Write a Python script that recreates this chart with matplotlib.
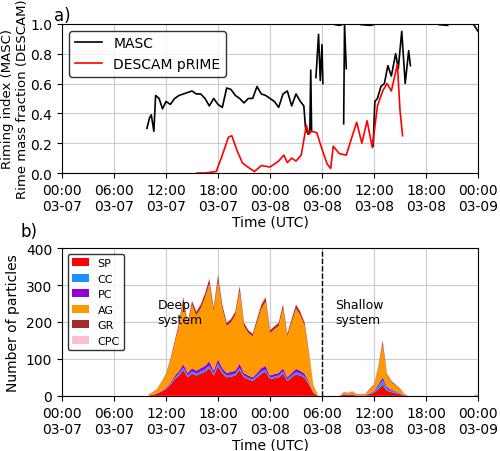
import numpy as np
import matplotlib.pyplot as plt

# hours since 00:00 03-07
masc_t = [9.8, 10.1, 10.3, 10.6, 10.8, 11.2, 11.6, 12.0, 12.5, 13.0, 13.5, 14.0, 14.5, 15.0, 15.5,
          16.0, 16.5, 17.0, 17.5, 18.0, 18.5, 19.0, 19.5, 20.0, 20.5, 21.0, 21.5, 22.0, 22.5, 23.0,
          23.5, 24.0, 24.5, 25.0, 25.5, 26.0, 26.5, 27.0, 27.5, 27.9, 28.1, 28.4, 28.6, 28.7, 28.8,
          29.0, 29.3, 29.6, 29.8, 30.0, 30.1]
masc_v = [0.30, 0.37, 0.39, 0.28, 0.52, 0.50, 0.43, 0.48, 0.46, 0.50, 0.52, 0.53, 0.54, 0.55, 0.53,
          0.53, 0.50, 0.45, 0.50, 0.46, 0.44, 0.57, 0.56, 0.52, 0.50, 0.47, 0.50, 0.50, 0.58, 0.53,
          0.52, 0.50, 0.48, 0.44, 0.53, 0.55, 0.45, 0.53, 0.48, 0.45, 0.30, 0.26, 0.29, 0.69, 0.28,
          np.nan, 0.64, 0.93, 0.62, 0.86, 0.60]
masc2_t = [32.5, 32.6, 32.8, np.nan, 35.9, 36.1, 36.4, 36.8, 37.2, 37.6, 38.0, 38.5, 38.8, 39.2, 39.6, 40.0, 40.2]
masc2_v = [0.33, 1.0, 0.70, np.nan, 0.18, 0.48, 0.50, 0.58, 0.60, 0.72, 0.65, 0.80, 0.70, 0.95, 0.60, 0.82, 0.72]
masc3_t = [31.5, 32.0, 32.3, np.nan, 34.5, 35.5, 36.0, np.nan, 43.5, 44.5, np.nan, 47.5, 48.0]
masc3_v = [0.995, 0.99, 0.995, np.nan, 0.995, 0.99, 0.995, np.nan, 0.995, 0.99, np.nan, 0.995, 0.95]

desc_t = [15.6, 16.5, 17.8, 18.5, 19.2, 19.6, 20.2, 20.8, 21.2, 22.2, 23.0, 24.0, 25.0, 25.6, 26.0,
          26.5, 27.0, 27.6, 28.2, 28.5, 28.8, 29.4, 30.0, 30.6, 31.0, 31.3, 32.0, 32.8, 33.5, 34.0,
          34.6, 35.2, 35.8, 36.4, 37.0, 37.5, 38.0, 38.7, 39.0, 39.3]
desc_v = [0.0, 0.0, 0.01, 0.12, 0.24, 0.25, 0.15, 0.07, 0.05, 0.01, 0.05, 0.04, 0.08, 0.12, 0.07,
          0.10, 0.08, 0.12, 0.32, 0.26, 0.28, 0.27, 0.16, 0.06, 0.03, 0.18, 0.13, 0.12, 0.25, 0.34,
          0.20, 0.35, 0.17, 0.45, 0.55, 0.60, 0.55, 0.73, 0.42, 0.25]

# particle counts, half-hour steps
deep_t = list(np.arange(10.0, 30.0, 0.5))
deep_total = [5, 10, 20, 40, 60, 100, 150, 200, 270, 200, 260, 230, 250, 280, 320, 240, 330, 250, 200, 210,
              230, 300, 200, 180, 170, 210, 250, 270, 180, 190, 200, 250, 170, 210, 250, 230, 200, 120, 30, 5]
deep_sp = [1, 3, 6, 12, 18, 30, 45, 55, 70, 50, 60, 55, 60, 65, 75, 55, 80, 60, 50, 52,
           55, 70, 50, 45, 40, 50, 60, 65, 45, 48, 50, 60, 40, 50, 58, 55, 48, 30, 8, 1]
deep_cc = [0, 0, 1, 1, 2, 3, 4, 5, 6, 5, 6, 5, 6, 6, 7, 5, 7, 6, 5, 5,
           5, 6, 5, 4, 4, 5, 6, 6, 4, 4, 5, 6, 4, 5, 6, 5, 5, 3, 1, 0]
deep_pc = [0, 0, 1, 1, 2, 3, 5, 7, 10, 7, 9, 8, 9, 10, 12, 8, 12, 9, 7, 8,
           8, 11, 7, 6, 6, 7, 9, 10, 6, 7, 7, 9, 6, 7, 9, 8, 7, 4, 1, 0]
deep_gr = [0, 1, 1, 2, 3, 5, 7, 9, 12, 9, 11, 10, 11, 12, 14, 10, 15, 11, 9, 9,
           10, 13, 9, 8, 7, 9, 11, 12, 8, 8, 9, 11, 7, 9, 11, 10, 9, 5, 1, 0]
deep_cpc = [0, 0, 0, 1, 1, 1, 2, 2, 3, 2, 3, 2, 3, 3, 3, 2, 3, 3, 2, 2,
            2, 3, 2, 2, 2, 2, 3, 3, 2, 2, 2, 3, 2, 2, 3, 2, 2, 1, 0, 0]

shal_t = [30.0, 32.0, 32.5, 33.0, 33.5, 34.0, 35.0, 35.5, 36.0, 36.5, 37.0, 37.5, 38.0, 38.5, 39.0, 39.5, 40.0, 47.5, 47.8, 48.0]
shal_total = [0, 0, 10, 8, 12, 5, 5, 20, 30, 80, 150, 60, 40, 30, 20, 5, 0, 0, 4, 0]
shal_sp = [0, 0, 3, 2, 3, 1, 1, 5, 8, 18, 30, 14, 10, 7, 5, 1, 0, 0, 1, 0]
shal_cc = [0, 0, 1, 1, 1, 0, 0, 2, 3, 8, 12, 6, 4, 3, 2, 0, 0, 0, 0, 0]
shal_pc = [0, 0, 1, 1, 1, 0, 0, 1, 2, 5, 8, 4, 3, 2, 1, 0, 0, 0, 0, 0]
shal_gr = [0, 0, 1, 1, 1, 1, 1, 2, 2, 5, 10, 4, 3, 2, 2, 1, 0, 0, 1, 0]
shal_cpc = [0, 0, 0, 0, 0, 0, 0, 0, 0, 1, 1, 1, 0, 0, 0, 0, 0, 0, 0, 0]

labels = ["SP", "CC", "PC", "AG", "GR", "CPC"]
colors = ["#ff0000", "#1e90ff", "#9400d3", "#ff9900", "#a52a2a", "#ffc0cb"]

ticks = np.arange(0, 49, 6)
ticklabels = ["00:00\n03-07", "06:00\n03-07", "12:00\n03-07", "18:00\n03-07", "00:00\n03-08",
              "06:00\n03-08", "12:00\n03-08", "18:00\n03-08", "00:00\n03-09"]

plt.rcParams['font.size'] = 10
fig = plt.figure(figsize=(5, 4.52), dpi=100)
ax1 = fig.add_axes([0.124, 0.615, 0.832, 0.33])
ax2 = fig.add_axes([0.124, 0.122, 0.832, 0.327])

ax1.plot(masc_t, masc_v, color="black", lw=1.2, label="MASC")
ax1.plot(masc2_t, masc2_v, color="black", lw=1.2)
ax1.plot(masc3_t, masc3_v, color="black", lw=1.2)
ax1.plot(desc_t, desc_v, color="red", lw=1.2, label="DESCAM pRIME")
ax1.set_ylim(0, 1)
ax1.set_ylabel("Riming index (MASC)\nRime mass fraction (DESCAM)", labelpad=1, fontsize=9.5)
ax1.legend(loc="upper left", fontsize=10, edgecolor="black", fancybox=True)
ax1.set_title("a)", loc="left", fontsize=12, x=-0.02, pad=2)

groups = [(deep_t, deep_total, deep_sp, deep_cc, deep_pc, deep_gr, deep_cpc, labels),
          (shal_t, shal_total, shal_sp, shal_cc, shal_pc, shal_gr, shal_cpc, [None] * 6)]
for t, tot, sp, cc, pc, gr, cpc, lab in groups:
    ag = np.array(tot) - np.array(sp) - np.array(cc) - np.array(pc) - np.array(gr) - np.array(cpc)
    ax2.stackplot(t, sp, cc, pc, ag, gr, cpc, colors=colors, labels=lab)
ax2.axvline(30, color="black", ls="--", lw=1)
ax2.text(11.0, 265, "Deep\nsystem", fontsize=9, va="top")
ax2.text(31.5, 265, "Shallow\nsystem", fontsize=9, va="top")
ax2.set_ylim(0, 400)
ax2.set_yticks([0, 100, 200, 300, 400])
ax2.set_ylabel("Number of particles")
ax2.legend(loc="upper left", fontsize=8, edgecolor="black", handlelength=1.5)
ax2.set_title("b)", loc="left", fontsize=12, x=-0.1, pad=9)

for ax in (ax1, ax2):
    ax.set_xlim(0, 48)
    ax.set_xticks(ticks)
    ax.set_xticklabels(ticklabels)
    ax.set_xlabel("Time (UTC)", labelpad=1)
    ax.grid(True, color="#cccccc", lw=0.8)
    ax.set_axisbelow(True)

fig.savefig("out.png", dpi=100)
